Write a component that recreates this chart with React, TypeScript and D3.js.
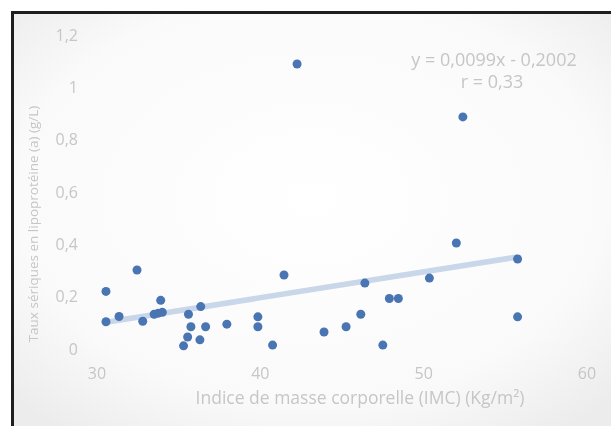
import { useEffect, useRef } from "react";
import * as d3 from "d3";

const bmi = [
  30.55, 30.55, 31.35, 32.45, 32.8, 33.5, 33.75, 34.0, 33.9, 35.6, 36.35,
  35.75, 36.65, 35.55, 35.3, 36.3, 37.95, 39.85, 39.85, 40.75, 41.45, 42.25,
  43.9, 45.25, 46.15, 46.4, 47.5, 47.9, 48.45, 50.35, 52.0, 52.4, 55.75, 55.75,
];
const lpa = [
  0.22, 0.104, 0.124, 0.302, 0.106, 0.133, 0.137, 0.14, 0.186, 0.133, 0.162,
  0.085, 0.085, 0.046, 0.012, 0.035, 0.095, 0.123, 0.085, 0.015, 0.283, 1.089,
  0.065, 0.085, 0.133, 0.252, 0.015, 0.193, 0.193, 0.271, 0.405, 0.887, 0.344,
  0.123,
];

const xTicks = [30, 40, 50, 60];
const xTickLabels = ["30", "40", "50", "60"];
const yTicks = [0, 0.2, 0.4, 0.6, 0.8, 1, 1.2];
const yTickLabels = ["0", "0,2", "0,4", "0,6", "0,8", "1", "1,2"];

// regression shown on the chart
const slope = 0.0099;
const intercept = -0.2002;
const eqLabel = "y = 0,0099x - 0,2002";
const rLabel = "r = 0,33";

const xTitle = "Indice de masse corporelle (IMC) (Kg/m²)";
const yTitle = "Taux sériques en lipoprotéine (a) (g/L)";

const W = 611;
const H = 426;
const TEXT = "#c6c6c6";
const FONT = "'Open Sans', sans-serif";

export default function App() {
  const svgRef = useRef<SVGSVGElement>(null);

  useEffect(() => {
    if (!svgRef.current) return;
    const svg = d3.select(svgRef.current);
    svg.selectAll("*").remove();
    svg.attr("width", W).attr("height", H);

    const defs = svg.append("defs");
    const grad = defs
      .append("radialGradient")
      .attr("id", "bg")
      .attr("cx", "50%")
      .attr("cy", "45%")
      .attr("r", "70%");
    grad.append("stop").attr("offset", "0%").attr("stop-color", "#ffffff");
    grad.append("stop").attr("offset", "70%").attr("stop-color", "#fafafa");
    grad.append("stop").attr("offset", "100%").attr("stop-color", "#ececec");
    defs
      .append("filter")
      .attr("id", "soft")
      .append("feGaussianBlur")
      .attr("stdDeviation", 0.6);

    svg.append("rect").attr("width", W).attr("height", H).attr("fill", "#fff");
    svg
      .append("rect")
      .attr("x", 12)
      .attr("y", 12)
      .attr("width", W - 12)
      .attr("height", H - 12)
      .attr("fill", "url(#bg)");

    const x = d3.scaleLinear().domain([30, 60]).range([97, 587]);
    const y = d3.scaleLinear().domain([0, 1.2]).range([349, 35]);

    const g = svg.append("g").attr("filter", "url(#soft)");

    // tick labels
    g.selectAll(".yt")
      .data(yTicks)
      .join("text")
      .attr("x", 78)
      .attr("y", (d) => y(d))
      .attr("dy", "0.35em")
      .attr("text-anchor", "end")
      .attr("font-family", FONT)
      .attr("font-size", 16)
      .attr("fill", TEXT)
      .text((_, i) => yTickLabels[i]);

    g.selectAll(".xt")
      .data(xTicks)
      .join("text")
      .attr("x", (d) => x(d))
      .attr("y", 373)
      .attr("dy", "0.35em")
      .attr("text-anchor", "middle")
      .attr("font-family", FONT)
      .attr("font-size", 16)
      .attr("fill", TEXT)
      .text((_, i) => xTickLabels[i]);

    // trendline
    const x0 = d3.min(bmi)!;
    const x1 = d3.max(bmi)!;
    const line = d3
      .line<number>()
      .x((d) => x(d))
      .y((d) => y(slope * d + intercept));
    g.append("path")
      .attr("d", line([x0, x1]))
      .attr("stroke", "#bccde5")
      .attr("stroke-width", 5.5)
      .attr("stroke-opacity", 0.8)
      .attr("fill", "none");

    // points
    g.selectAll(".pt")
      .data(bmi)
      .join("circle")
      .attr("cx", (d) => x(d))
      .attr("cy", (_, i) => y(lpa[i]))
      .attr("r", 4.5)
      .attr("fill", "#4a74b3");

    // equation
    g.append("text")
      .attr("x", 494)
      .attr("y", 60)
      .attr("dy", "0.35em")
      .attr("text-anchor", "middle")
      .attr("font-family", FONT)
      .attr("font-size", 18)
      .attr("fill", TEXT)
      .text(eqLabel);
    g.append("text")
      .attr("x", 492)
      .attr("y", 82)
      .attr("dy", "0.35em")
      .attr("text-anchor", "middle")
      .attr("font-family", FONT)
      .attr("font-size", 18)
      .attr("fill", TEXT)
      .text(rLabel);

    // axis titles
    g.append("text")
      .attr("x", 360)
      .attr("y", 398)
      .attr("dy", "0.35em")
      .attr("text-anchor", "middle")
      .attr("font-family", FONT)
      .attr("font-size", 17.5)
      .attr("fill", TEXT)
      .text(xTitle);
    g.append("text")
      .attr("transform", "translate(33,224) rotate(-90)")
      .attr("dy", "0.35em")
      .attr("text-anchor", "middle")
      .attr("font-family", FONT)
      .attr("font-size", 13.5)
      .attr("fill", TEXT)
      .text(yTitle);

    // frame (left + top edge of the scanned box)
    svg
      .append("path")
      .attr("d", `M12.5,${H} V12.5 H${W}`)
      .attr("stroke", "#1e1e1e")
      .attr("stroke-width", 3)
      .attr("fill", "none");
  }, []);

  return (
    <div style={{ position: "fixed", left: 0, top: 0 }}>
      <svg ref={svgRef} style={{ display: "block" }} />
    </div>
  );
}
